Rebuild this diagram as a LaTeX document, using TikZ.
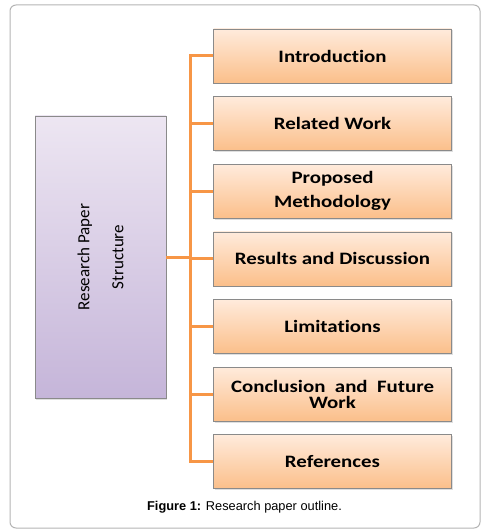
\documentclass[tikz,border=0pt]{standalone}
\usepackage{fontspec}
\setmainfont{Carlito}[Ligatures=NoCommon]
\newfontfamily\boxfont{Carlito}[FakeStretch=1.2, Ligatures=NoCommon]
\newfontfamily\capfont{Liberation Sans}
\usetikzlibrary{positioning,shadows}
\definecolor{peachtop}{HTML}{FFEBDC}
\definecolor{peachbot}{HTML}{FBBF8A}
\definecolor{liltop}{HTML}{EDE6F2}
\definecolor{lilbot}{HTML}{C5B5D9}
\definecolor{trunk}{HTML}{F79646}
\definecolor{boxline}{HTML}{8A8A8A}
\definecolor{framegray}{HTML}{B4B4B4}
\begin{document}
\begin{tikzpicture}[
        x=1pt, y=-1pt, % координаты в пикселях, ось y вниз
        node distance=13pt, % промежуток между блоками
        part/.style = {draw=boxline, line width=0.6pt, top color=peachtop, bottom color=peachbot,
            minimum width=238pt, minimum height=54pt, inner sep=0pt, align=center,
            font=\boxfont\fontsize{17.4}{19}\selectfont\bfseries,
            drop shadow={shadow xshift=1pt, shadow yshift=-1.5pt, opacity=0.25}}, % разделы статьи
        root/.style = {draw=boxline, line width=0.6pt, top color=liltop, bottom color=lilbot,
            minimum width=131pt, minimum height=282pt, inner sep=0pt,
            drop shadow={shadow xshift=1pt, shadow yshift=-1.5pt, opacity=0.25}}, % левый блок
        link/.style = {draw=trunk, line width=3pt}, % оранжевые линии
        frame/.style = {draw=framegray, line width=1pt, rounded corners=6pt},
    ]
    \useasboundingbox (0,0) rectangle (485,529);
    \draw[frame] (10,5) rectangle (480,528);

    \node[part] (intro) at (332.5,56) {Introduction};
    \node[part, below=of intro] (related) {Related Work};
    \node[part, below=of related] (method) {Proposed\\[5pt]Methodology};
    \node[part, below=of method] (results) {Results and Discussion};
    \node[part, below=of results] (limits) {Limitations};
    \node[part, below=of limits] (concl) {Conclusion\ \ and\ \ Future\\[-3pt]Work};
    \node[part, below=of concl] (refs) {References};

    \node[root] (struct) at (100.5,257) {};
    \node[rotate=90, align=center, font=\fontsize{17}{34}\selectfont] (structtxt) at (struct.center) {Research Paper\\Structure};

    \draw[link] (struct.east) -- ++(24,0);
    \draw[link] (intro.west) -- ++(-23,0) |- (refs.west);
    \foreach \n in {related, method, results, limits, concl}
        \draw[link] (\n.west) -- ++(-23,0);

    \node[font=\capfont\fontsize{12.8}{15}\selectfont] (caption) at (244.5,507) {\textbf{Figure 1:} Research paper outline.};
\end{tikzpicture}
\end{document}
